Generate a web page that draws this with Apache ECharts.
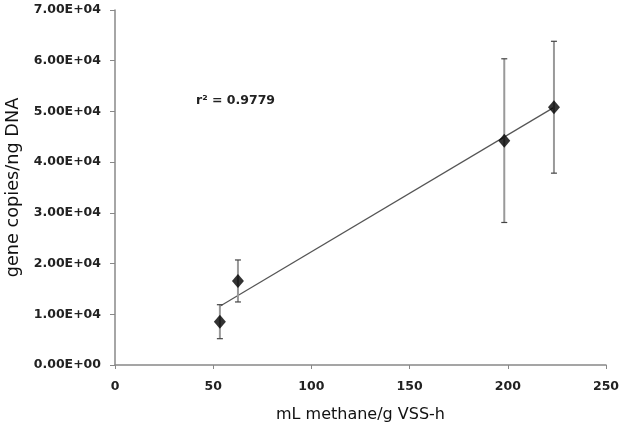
<!DOCTYPE html>
<html><head><meta charset="utf-8">
<script src="https://cdn.jsdelivr.net/npm/echarts@6/dist/echarts.min.js"></script>
<style>html,body{margin:0;padding:0;background:#fff}#c{width:634px;height:432px}</style>
</head><body><div id="c"></div>
<script>
const xValues = [53.4, 62.6, 198.2, 223.5];
const yValues = [8540, 16570, 44240, 50830];
const yErrors = [3350, 4140, 16140, 13000];
const trendX = [53.4, 223.5];
const trendY = [11600, 50800];
const yTickLabels = ['0.00E+00','1.00E+04','2.00E+04','3.00E+04','4.00E+04','5.00E+04','6.00E+04','7.00E+04'];
const xTickLabels = ['0','50','100','150','200','250'];
const rText = 'r² = 0.9779';

const FONT = '"DejaVu Sans", sans-serif';
const chart = echarts.init(document.getElementById('c'));
chart.setOption({
  animation: false,
  grid: {left: 115, right: 28, top: 10, bottom: 67, outerBoundsMode: 'none', containLabel: false},
  xAxis: {
    type: 'value', min: 0, max: 250, interval: 50,
    name: 'mL methane/g VSS-h', nameLocation: 'middle', nameGap: 42,
    nameTextStyle: {fontFamily: FONT, fontSize: 16, color: '#111'},
    axisLine: {lineStyle: {color: '#888', width: 1.5}},
    axisTick: {show: true, inside: false, length: 4, lineStyle: {color: '#888'}},
    axisLabel: {fontFamily: FONT, fontWeight: 'bold', fontSize: 12.5, color: '#222', margin: 15,
      formatter: v => xTickLabels[Math.round(v/50)]},
    splitLine: {show: false}
  },
  yAxis: {
    type: 'value', min: 0, max: 70000, interval: 10000,
    name: 'gene copies/ng DNA', nameLocation: 'middle', nameGap: 90,
    nameTextStyle: {fontFamily: FONT, fontSize: 17.7, color: '#111'},
    axisLine: {show: true, lineStyle: {color: '#888', width: 1.5}},
    axisTick: {show: true, inside: false, length: 5, lineStyle: {color: '#888'}},
    axisLabel: {fontFamily: FONT, fontWeight: 'bold', fontSize: 12.5, color: '#222', margin: 14,
      formatter: v => yTickLabels[Math.round(v/10000)]},
    splitLine: {show: false}
  },
  series: [
    {
      type: 'line', data: trendX.map((x,i)=>[x, trendY[i]]),
      symbol: 'none', lineStyle: {color: '#555', width: 1.2}, z: 2
    },
    {
      type: 'custom', z: 3,
      data: xValues.map((x,i)=>[x, yValues[i] - yErrors[i], yValues[i] + yErrors[i]]),
      renderItem: function(params, api) {
        const lo = api.coord([api.value(0), api.value(1)]);
        const hi = api.coord([api.value(0), api.value(2)]);
        const cw = 3;
        return {type: 'group', children: [
          {type: 'line', shape: {x1: lo[0], y1: lo[1], x2: hi[0], y2: hi[1]}, style: {stroke: '#999', lineWidth: 2}},
          {type: 'line', shape: {x1: lo[0]-cw, y1: lo[1], x2: lo[0]+cw, y2: lo[1]}, style: {stroke: '#444', lineWidth: 1.2}},
          {type: 'line', shape: {x1: hi[0]-cw, y1: hi[1], x2: hi[0]+cw, y2: hi[1]}, style: {stroke: '#444', lineWidth: 1.2}}
        ]};
      }
    },
    {
      type: 'scatter', z: 4,
      data: xValues.map((x,i)=>[x, yValues[i]]),
      symbol: 'diamond', symbolSize: [12, 14],
      itemStyle: {color: '#000'}
    }
  ],
  graphic: [{
    type: 'text', left: 196, top: 94,
    style: {text: rText, fontFamily: FONT, fontWeight: 'bold', fontSize: 12.5, fill: '#222'}
  }]
});
</script></body></html>
